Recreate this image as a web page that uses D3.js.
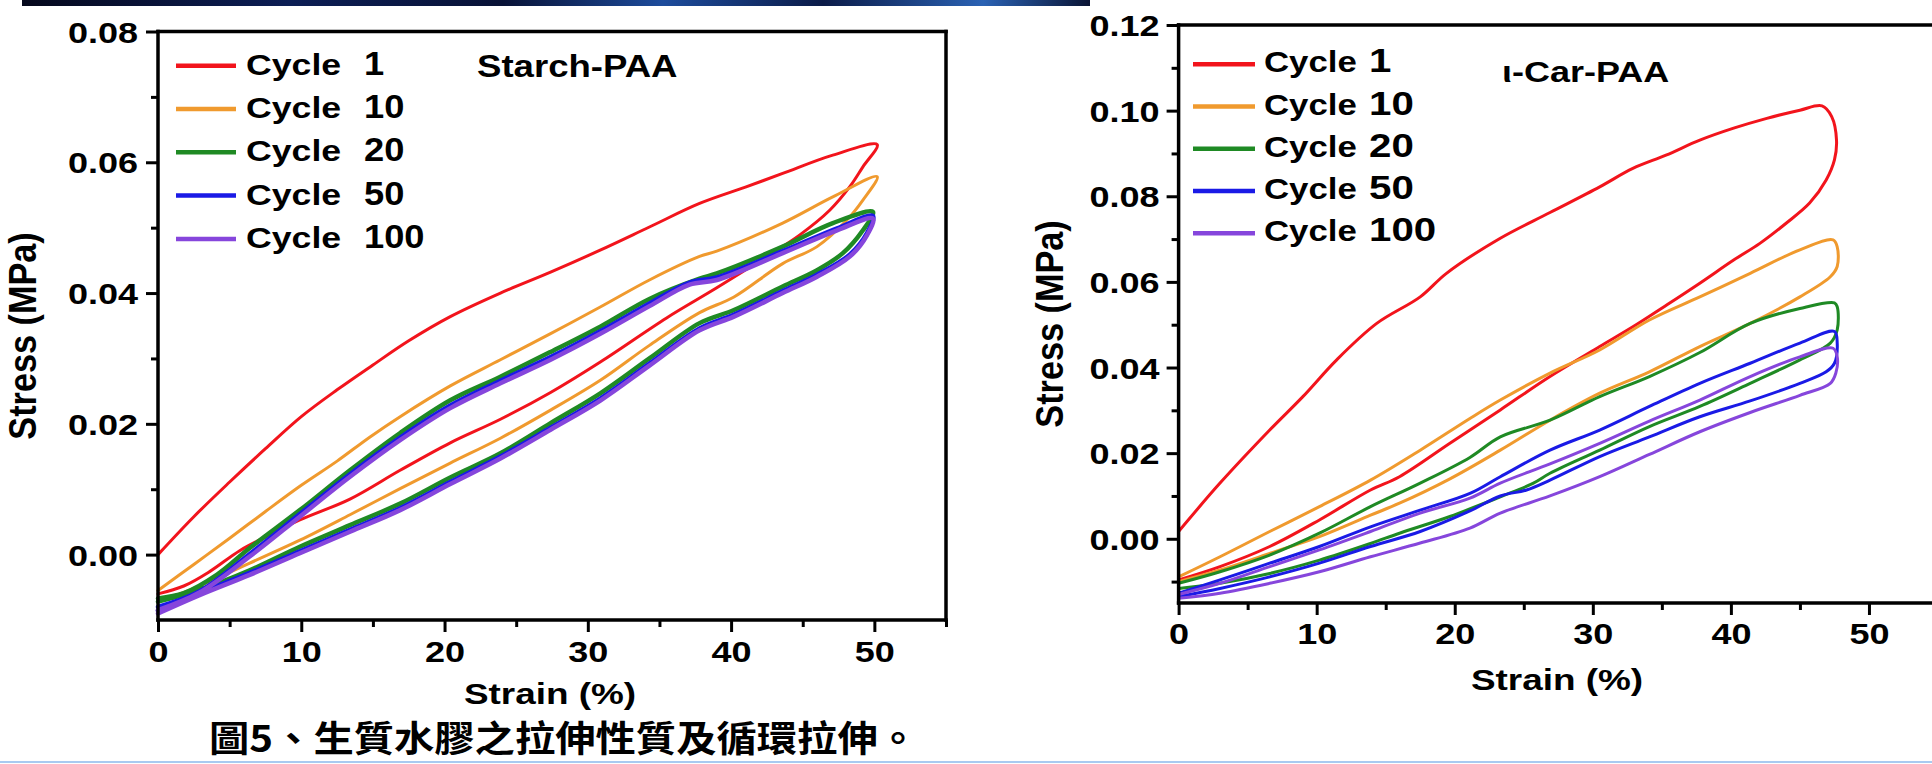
<!DOCTYPE html>
<html>
<head>
<meta charset="utf-8">
<script src="https://cdn.jsdelivr.net/npm/d3@7"></script>
<style>
  html, body { margin: 0; padding: 0; background: #fff; }
  svg { display: block; }
</style>
</head>
<body>
<svg id="chart" width="1932" height="764"></svg>
<script>
// ---- data (strain %, stress MPa), loading then unloading ----
const cycleNames = ["1", "10", "20", "50", "100"];
const strainTicks = [0, 10, 20, 30, 40, 50];
const strainMinor = [5, 15, 25, 35, 45, 55];
const starchStressTicks = [0.00, 0.02, 0.04, 0.06, 0.08];
const starchStressMinor = [0.01, 0.03, 0.05, 0.07];
const carStressTicks = [0.00, 0.02, 0.04, 0.06, 0.08, 0.10, 0.12];
const carStressMinor = [-0.01, 0.01, 0.03, 0.05, 0.07, 0.09, 0.11];

const starchCycle1 = [
  [0,0.0000],[2.5,0.0058],[5,0.0111],[7.5,0.0162],[10,0.0211],[12.5,0.0252],[15,0.0290],[17.5,0.0327],
  [20.4,0.0364],[23.9,0.0400],[27.4,0.0432],[30.9,0.0466],[34.3,0.0501],[37.8,0.0537],[41,0.0562],
  [43.6,0.0583],[47.1,0.0611],[50.2,0.0627],
  [49.2,0.0593],[48.3,0.0563],[46.9,0.0527],[44.8,0.0489],[42.5,0.0456],[39.0,0.0408],[35.5,0.0362],
  [30.9,0.0295],[27.4,0.0248],[23.9,0.0207],[20.4,0.0171],[16.9,0.0129],[13.4,0.0085],[9.9,0.0053],
  [7.6,0.0028],[5.7,0.0006],[3.6,-0.0026],[1.8,-0.0048],[0,-0.0060]
];
const starchCycle10 = [
  [0,-0.0055],[2.5,-0.0015],[5,0.0025],[7.5,0.0066],[10,0.0106],[12.5,0.0143],[14.8,0.0180],[16.9,0.0211],
  [20.4,0.0258],[23.9,0.0298],[27.4,0.0338],[30.9,0.0379],[34.3,0.0420],[37.8,0.0456],[39.0,0.0464],
  [43.6,0.0507],[47.1,0.0547],[50.2,0.0578],
  [49.2,0.0542],[48.1,0.0512],[46.0,0.0471],[43.6,0.0445],[40.2,0.0394],[37.8,0.0370],[34.3,0.0320],
  [30.9,0.0267],[27.4,0.0221],[23.9,0.0178],[20.4,0.0140],[16.9,0.0101],[13.4,0.0061],[9.9,0.0022],
  [6.4,-0.0013],[4.1,-0.0036],[1.8,-0.0058],[0,-0.0069]
];
const starchCycle20 = [
  [0,-0.0067],[1.8,-0.0059],[4.1,-0.0031],[6.4,0.0010],[9.9,0.0068],[13.4,0.0129],[16.9,0.0186],
  [20.4,0.0236],[23.9,0.0272],[27.4,0.0310],[30.9,0.0349],[34.3,0.0391],[37.8,0.0422],[39.0,0.0430],
  [43.6,0.0471],[47.1,0.0507],[49.9,0.0524],
  [49.2,0.0496],[47.8,0.0461],[46.0,0.0435],[43.6,0.0410],[40.2,0.0374],[37.8,0.0354],[34.3,0.0300],
  [30.9,0.0247],[27.4,0.0201],[23.9,0.0155],[20.4,0.0118],[16.9,0.0078],[13.4,0.0045],[9.9,0.0012],
  [6.4,-0.0024],[2.9,-0.0054],[0,-0.0072]
];
const starchCycle50 = [
  [0,-0.0080],[2.9,-0.0056],[6.4,0.0001],[9.9,0.0062],[13.4,0.0123],[16.9,0.0179],[20.4,0.0228],
  [23.9,0.0266],[27.4,0.0302],[30.9,0.0342],[34.3,0.0384],[37.1,0.0416],[39.0,0.0424],[43.6,0.0464],
  [47.4,0.0499],[49.9,0.0518],
  [49.5,0.0492],[48.3,0.0459],[46.0,0.0428],[43.6,0.0403],[40.2,0.0367],[37.8,0.0346],[34.3,0.0292],
  [30.9,0.0239],[27.4,0.0194],[23.9,0.0150],[20.4,0.0111],[16.9,0.0071],[13.4,0.0038],[9.9,0.0005],
  [6.4,-0.0028],[2.9,-0.0059],[0,-0.0086]
];
const starchCycle100 = [
  [0,-0.0085],[2.9,-0.0058],[6.4,-0.0003],[9.9,0.0058],[13.4,0.0119],[16.9,0.0175],[20.4,0.0224],
  [23.9,0.0262],[27.4,0.0298],[30.9,0.0338],[34.3,0.0380],[37.1,0.0413],[39.0,0.0420],[43.6,0.0461],
  [47.4,0.0496],[49.9,0.0514],
  [49.5,0.0489],[48.3,0.0456],[46.0,0.0425],[43.6,0.0400],[40.2,0.0364],[37.8,0.0343],[34.3,0.0289],
  [30.9,0.0236],[27.4,0.0191],[23.9,0.0147],[20.4,0.0108],[16.9,0.0068],[13.4,0.0035],[9.9,0.0002],
  [6.4,-0.0031],[2.9,-0.0062],[0,-0.0090]
];

const carCycle1 = [
  [0,0.0017],[3.0,0.0130],[6.6,0.0254],[9.0,0.0332],[11.45,0.0418],[14.35,0.0503],[17.5,0.0565],
  [19.4,0.0620],[23.3,0.0702],[26.9,0.0762],[30.5,0.0822],[32.9,0.0865],[35.3,0.0896],[37.75,0.0931],
  [40.2,0.0959],[42.6,0.0982],[45.0,0.1001],[46.6,0.1011],
  [47.3,0.0986],[47.65,0.0931],[47.5,0.0885],[46.9,0.0838],[45.7,0.0784],[44.0,0.0737],[42.1,0.0690],
  [40.2,0.0651],[37.75,0.0597],[35.3,0.0545],[32.9,0.0495],[30.5,0.0449],[26.9,0.0379],[23.3,0.0301],
  [19.65,0.0223],[16.0,0.0145],[13.9,0.0114],[10.2,0.0044],[6.6,-0.0018],[3.0,-0.0065],[0,-0.0096]
];
const carCycle10 = [
  [0,-0.0089],[3.0,-0.0042],[6.6,0.0017],[10.2,0.0075],[13.9,0.0137],[17.5,0.0207],[21.1,0.0281],
  [23.3,0.0324],[26.9,0.0387],[30.5,0.0441],[34.1,0.0511],[37.75,0.0565],[41.4,0.0620],[45.0,0.0675],
  [47.4,0.0698],
  [47.7,0.0682],[47.7,0.0636],[47.2,0.0612],[45.0,0.0565],[41.4,0.0503],[37.75,0.0449],[34.1,0.0390],
  [30.5,0.0340],[26.9,0.0277],[23.3,0.0207],[19.65,0.0140],[16.0,0.0083],[13.9,0.0055],[10.2,0.0005],
  [6.6,-0.0034],[3.0,-0.0073],[0,-0.0100]
];
const carCycle20 = [
  [0,-0.0104],[3.0,-0.0077],[6.6,-0.0038],[10.2,0.0013],[13.9,0.0075],[17.5,0.0130],[21.1,0.0190],
  [23.3,0.0238],[26.9,0.0277],[30.5,0.0332],[34.1,0.0379],[37.75,0.0435],[41.4,0.0503],[45.0,0.0538],
  [47.5,0.0551],
  [47.7,0.0542],[47.7,0.0488],[47.2,0.0457],[45.0,0.0418],[41.4,0.0363],[37.75,0.0309],[34.1,0.0262],
  [30.5,0.0207],[26.9,0.0153],[25.7,0.0130],[23.3,0.0098],[19.65,0.0052],[16.0,0.0013],[13.9,-0.0011],
  [10.2,-0.0050],[6.6,-0.0081],[3.0,-0.0104],[0,-0.0116]
];
const carCycle50 = [
  [0,-0.0127],[3.0,-0.0096],[6.6,-0.0057],[10.2,-0.0018],[13.9,0.0028],[17.5,0.0067],[21.1,0.0106],
  [23.3,0.0145],[26.9,0.0207],[30.5,0.0254],[34.1,0.0309],[37.75,0.0363],[41.4,0.0410],[45.0,0.0457],
  [47.5,0.0484],
  [47.7,0.0457],[47.5,0.0410],[46.9,0.0390],[45.0,0.0363],[41.4,0.0322],[37.75,0.0285],[34.1,0.0238],
  [30.5,0.0192],[26.9,0.0137],[25.2,0.0114],[23.3,0.0100],[21.1,0.0065],[17.5,0.0017],[13.9,-0.0018],
  [10.2,-0.0057],[6.6,-0.0089],[3.0,-0.0116],[0,-0.0135]
];
const carCycle100 = [
  [0,-0.0130],[3.0,-0.0104],[6.6,-0.0065],[10.2,-0.0026],[13.9,0.0017],[17.5,0.0060],[21.1,0.0095],
  [23.3,0.0130],[26.9,0.0175],[30.5,0.0223],[34.1,0.0275],[37.75,0.0324],[41.4,0.0379],[45.0,0.0425],
  [47.4,0.0445],
  [47.7,0.0425],[47.6,0.0387],[47.2,0.0363],[45.0,0.0335],[41.4,0.0295],[37.75,0.0250],[34.1,0.0197],
  [30.5,0.0145],[26.9,0.0100],[23.3,0.0060],[21.1,0.0025],[17.5,-0.0010],[13.9,-0.0042],[10.2,-0.0077],
  [6.6,-0.0104],[3.0,-0.0127],[0,-0.0139]
];

// ---- styles ----
const FONT = "'Liberation Sans', Arial, sans-serif";
const cycleColors = ["#f2141c", "#f09a2e", "#1f8a24", "#1a1ae6", "#8646dc"];

const svg = d3.select("#chart");

svg.append("rect").attr("width", 1932).attr("height", 764).attr("fill", "#fff");

// dark photo strip at the very top and light blue rule at the bottom
const defs = svg.append("defs");
const grad = defs.append("linearGradient").attr("id", "strip");
[["0%", "#05081c"], ["25%", "#0c1e55"], ["45%", "#081236"], ["60%", "#1d4c9c"],
 ["75%", "#0b1b48"], ["90%", "#2a62b4"], ["100%", "#0a1434"]].forEach(s => {
  grad.append("stop").attr("offset", s[0]).attr("stop-color", s[1]);
});
svg.append("rect").attr("x", 22).attr("y", 0).attr("width", 1068).attr("height", 6).attr("fill", "url(#strip)");
svg.append("line").attr("x1", 0).attr("x2", 1932).attr("y1", 762).attr("y2", 762)
  .attr("stroke", "#a9caf0").attr("stroke-width", 2);

// text stretched horizontally like the source picture
function addText(parent, str, x, y, size, sx, anchor) {
  return parent.append("text")
    .attr("transform", `translate(${x},${y}) scale(${sx},1)`)
    .attr("text-anchor", anchor || "start")
    .attr("font-family", FONT)
    .attr("font-weight", "bold")
    .attr("font-size", size)
    .attr("fill", "#000")
    .text(str);
}

function drawPanel(p) {
  const x = d3.scaleLinear().domain([0, 55]).range([p.left, p.right]);
  const y = d3.scaleLinear().domain(p.yDomain).range([p.bottom, p.top]);
  const g = svg.append("g");

  // hysteresis loops
  const line = d3.line()
    .x(d => x(d[0]))
    .y(d => y(d[1]))
    .curve(d3.curveCatmullRom.alpha(0.5));

  p.cycles.forEach((c, i) => {
    g.append("path")
      .attr("d", line(c))
      .attr("fill", "none")
      .attr("stroke", cycleColors[i])
      .attr("stroke-width", p.widths[i])
      .attr("stroke-linejoin", "round")
      .attr("stroke-linecap", "round");
  });

  const styleTicks = a => {
    a.select(".domain").remove();
    a.selectAll("line").attr("stroke", "#000").attr("stroke-width", 3);
  };

  // minor ticks
  g.append("g")
    .attr("transform", `translate(${p.left},0)`)
    .call(d3.axisLeft(y).tickValues(p.yMinor).tickSize(7).tickFormat(() => ""))
    .call(styleTicks);
  g.append("g")
    .attr("transform", `translate(0,${p.bottom})`)
    .call(d3.axisBottom(x).tickValues(strainMinor).tickSize(7).tickFormat(() => ""))
    .call(styleTicks);

  // major ticks + labels
  g.append("g")
    .attr("transform", `translate(${p.left},0)`)
    .call(d3.axisLeft(y).tickValues(p.yTicks).tickSize(12).tickFormat(d3.format(".2f")))
    .call(styleTicks)
    .call(a => a.selectAll("text")
      .attr("x", null).attr("dy", null)
      .attr("transform", `translate(${-p.yLabelGap},10.5) scale(1.2,1)`)
      .attr("font-family", FONT).attr("font-weight", "bold")
      .attr("font-size", 30).attr("fill", "#000"));

  g.append("g")
    .attr("transform", `translate(0,${p.bottom})`)
    .call(d3.axisBottom(x).tickValues(strainTicks).tickSize(12).tickFormat(d3.format("d")))
    .call(styleTicks)
    .call(a => a.selectAll("text")
      .attr("y", null).attr("dy", null)
      .attr("transform", `translate(0,${p.xLabelGap}) scale(1.2,1)`)
      .attr("font-family", FONT).attr("font-weight", "bold")
      .attr("font-size", 30).attr("fill", "#000"));

  // frame
  const frame = [
    [p.left, p.top, p.left, p.bottom],
    [p.left, p.bottom, p.right, p.bottom],
    [p.left, p.top, p.right, p.top],
    [p.right, p.top, p.right, p.bottom]
  ];
  frame.forEach(f => {
    g.append("line")
      .attr("x1", f[0]).attr("y1", f[1]).attr("x2", f[2]).attr("y2", f[3])
      .attr("stroke", "#000").attr("stroke-width", 3.5).attr("stroke-linecap", "square");
  });

  // legend
  const lg = p.legend;
  cycleNames.forEach((name, i) => {
    const ly = lg.y0 + i * lg.dy;
    g.append("line")
      .attr("x1", lg.x1).attr("x2", lg.x2).attr("y1", ly).attr("y2", ly)
      .attr("stroke", cycleColors[i]).attr("stroke-width", 4.5);
    addText(g, "Cycle", lg.cx, ly + lg.base, 29, lg.csx);
    addText(g, name, lg.nx, ly + lg.base, lg.nsize, lg.nsx);
  });

  // sample name
  addText(g, p.title, p.titleX, p.titleY, p.titleSize, p.titleSx);

  // axis titles
  addText(g, "Strain (%)", p.xTitleX, p.xTitleY, 30, 1.23, "middle");
  g.append("text")
    .attr("transform", `translate(${p.yTitleX},${p.yTitleY}) rotate(-90) scale(1.07,1.2)`)
    .attr("text-anchor", "middle")
    .attr("font-family", FONT)
    .attr("font-weight", "bold")
    .attr("font-size", 32)
    .attr("fill", "#000")
    .text("Stress (MPa)");
}

drawPanel({
  left: 158, right: 946, top: 31.5, bottom: 620,
  yDomain: [-0.01, 0.08],
  yTicks: starchStressTicks, yMinor: starchStressMinor,
  yLabelGap: 20, xLabelGap: 42,
  cycles: [starchCycle1, starchCycle10, starchCycle20, starchCycle50, starchCycle100],
  widths: [3, 3, 4.5, 4.5, 4.5],
  legend: { x1: 176, x2: 236, y0: 65.7, dy: 43.3, base: 9, cx: 246, csx: 1.23, nx: 364, nsize: 33, nsx: 1.1 },
  title: "Starch-PAA", titleX: 477, titleY: 77, titleSize: 31, titleSx: 1.18,
  xTitleX: 550, xTitleY: 704,
  yTitleX: 36, yTitleY: 336
});

drawPanel({
  left: 1178.6, right: 1938, top: 25, bottom: 603,
  yDomain: [-0.015, 0.12],
  yTicks: carStressTicks, yMinor: carStressMinor,
  yLabelGap: 19, xLabelGap: 41,
  cycles: [carCycle1, carCycle10, carCycle20, carCycle50, carCycle100],
  widths: [3, 3, 3, 3, 3],
  legend: { x1: 1193, x2: 1255, y0: 64.3, dy: 42.25, base: 8, cx: 1264, csx: 1.2, nx: 1369, nsize: 33, nsx: 1.22 },
  title: "\u03b9-Car-PAA", titleX: 1502, titleY: 82, titleSize: 30, titleSx: 1.2,
  xTitleX: 1557, xTitleY: 690,
  yTitleX: 1063, yTitleY: 324
});

// caption
svg.append("text")
  .attr("x", 209)
  .attr("y", 752)
  .attr("font-family", "'Noto Sans CJK TC', 'Noto Sans CJK SC', serif")
  .attr("font-weight", "bold")
  .attr("font-size", 36)
  .attr("textLength", 709)
  .attr("lengthAdjust", "spacingAndGlyphs")
  .attr("fill", "#000")
  .text("圖5、生質水膠之拉伸性質及循環拉伸。");
</script>
</body>
</html>
